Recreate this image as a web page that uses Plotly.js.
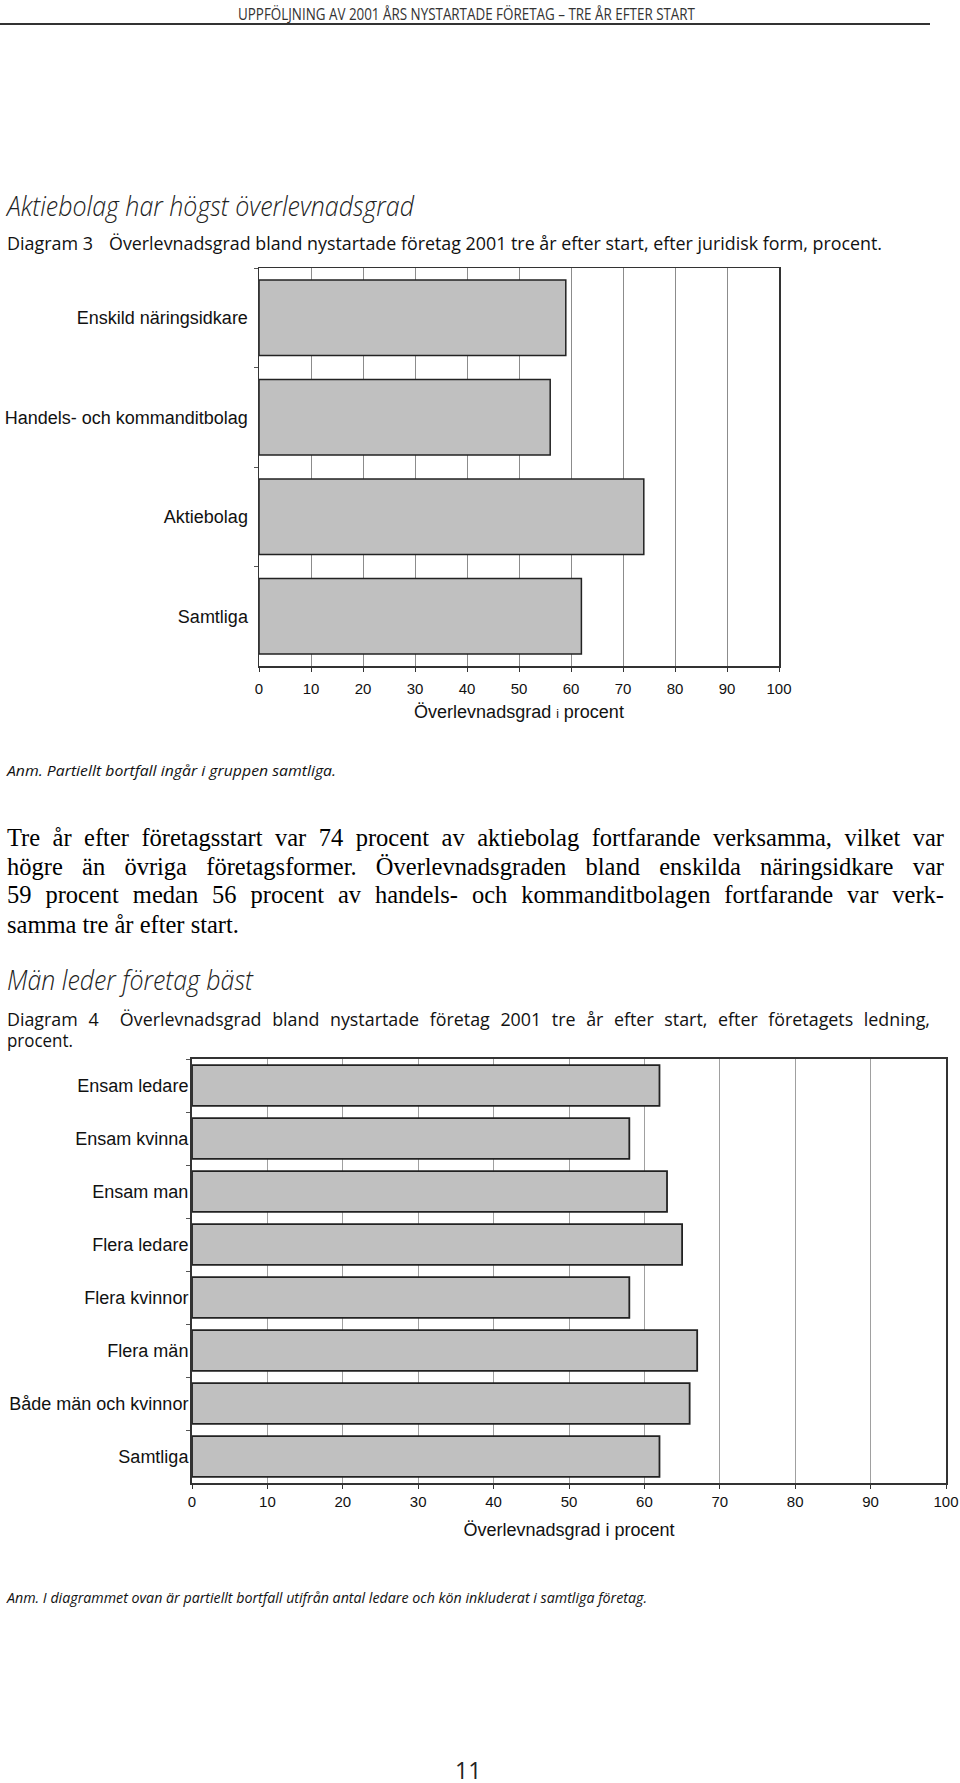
<!DOCTYPE html>
<html>
<head>
<meta charset="utf-8">
<script src="https://cdn.plot.ly/plotly-3.0.1.min.js"></script>
<style>
  html, body { margin:0; padding:0; background:#fff; }
  body { width:960px; height:1783px; position:relative; overflow:hidden; }
  .t { position:absolute; white-space:nowrap; transform-origin:0 50%; color:#111; z-index:5; }
  .sans { font-family:"Open Sans", "DejaVu Sans", sans-serif; }
  .serif { font-family:"Liberation Serif", "Times New Roman", serif; font-size:24.5px; color:#000; }
  .just { text-align:justify; text-align-last:justify; }
  #chart1 { position:absolute; left:0; top:230px; width:960px; height:510px; z-index:1; }
  #chart2 { position:absolute; left:0; top:1020px; width:960px; height:560px; z-index:1; }
  #rule { position:absolute; left:0; top:23px; width:930px; height:2px; background:#333; }
</style>
</head>
<body>

<div class="t sans" data-fit="457" style="left:238px; top:3px; font-size:17px; line-height:22px; color:#333;">UPPFÖLJNING AV 2001 ÅRS NYSTARTADE FÖRETAG – TRE ÅR EFTER START</div>
<div id="rule"></div>

<div class="t sans" data-fit="407" style="left:7px; top:189px; font-size:27px; line-height:34px; font-style:italic; font-weight:300; color:#222;">Aktiebolag har högst överlevnadsgrad</div>
<div class="t sans" data-fit="86" style="left:7px; top:231px; font-size:18px; line-height:24px;">Diagram 3</div>
<div id="diag3" class="t sans" data-fit="773" style="left:109px; top:231px; font-size:18px; line-height:24px;">Överlevnadsgrad bland nystartade företag 2001 tre år efter start, efter juridisk form, procent.</div>

<div id="chart1"></div>

<div class="t sans" data-fit="329" style="left:7px; top:759px; font-size:15px; line-height:22px; font-style:italic;">Anm. Partiellt bortfall ingår i gruppen samtliga.</div>

<div class="t serif just" data-just="937" style="left:7px; top:823px; line-height:30px;">Tre år efter företagsstart var 74 procent av aktiebolag fortfarande verksamma, vilket var</div>
<div class="t serif just" data-just="937" style="left:7px; top:852px; line-height:30px;">högre än övriga företagsformer. Överlevnadsgraden bland enskilda näringsidkare var</div>
<div class="t serif just" data-just="937" style="left:7px; top:880px; line-height:30px;">59 procent medan 56 procent av handels- och kommanditbolagen fortfarande var verk-</div>
<div class="t serif" style="left:7px; top:910px; line-height:30px;">samma tre år efter start.</div>

<div class="t sans" data-fit="246" style="left:7px; top:963px; font-size:27px; line-height:34px; font-style:italic; font-weight:300; color:#222;">Män leder företag bäst</div>
<div class="t sans just" data-just="923" data-s="diag3" style="left:7px; top:1007px; font-size:18px; line-height:24px;">Diagram 4&nbsp; Överlevnadsgrad bland nystartade företag 2001 tre år efter start, efter företagets ledning,</div>
<div class="t sans" data-fit="66" style="left:7px; top:1028px; font-size:18px; line-height:24px;">procent.</div>

<div id="chart2"></div>

<div class="t sans" data-fit="640" style="left:7px; top:1586px; font-size:15px; line-height:22px; font-style:italic;">Anm. I diagrammet ovan är partiellt bortfall utifrån antal ledare och kön inkluderat i samtliga företag.</div>

<div class="t sans" style="left:455px; top:1759px; font-size:23px; line-height:23px; color:#222;">11</div>

<script>
// ---- Data ----
const categories1 = ["Enskild näringsidkare", "Handels- och kommanditbolag", "Aktiebolag", "Samtliga"];
const values1 = [59, 56, 74, 62];

const categories2 = ["Ensam ledare", "Ensam kvinna", "Ensam man", "Flera ledare", "Flera kvinnor", "Flera män", "Både män och kvinnor", "Samtliga"];
const values2 = [62, 58, 63, 65, 58, 67, 66, 62];

const xTickVals = [0, 10, 20, 30, 40, 50, 60, 70, 80, 90, 100];
const xTitle1 = "Överlevnadsgrad <span style='font-size:12px'>i</span> procent";
const xTitle2 = "Överlevnadsgrad i procent";

// ---- Charts ----
const FONT = "Liberation Sans, Arial, sans-serif";

function makeChart(id, cats, vals, title, opts) {
  const trace = {
    type: "bar",
    orientation: "h",
    y: cats,
    x: vals,
    marker: { color: "#c0c0c0", line: { color: "#222", width: opts.barLine } },
    hoverinfo: "none"
  };
  const layout = {
    width: 960,
    height: opts.height,
    margin: opts.margin,
    paper_bgcolor: "rgba(0,0,0,0)",
    plot_bgcolor: "#fff",
    showlegend: false,
    bargap: opts.bargap,
    font: { family: FONT, color: "#111" },
    xaxis: {
      range: [0, 100],
      tickvals: xTickVals,
      ticktext: xTickVals.map(String),
      showgrid: true,
      gridcolor: opts.gridColor,
      gridwidth: 1,
      zeroline: false,
      showline: true,
      linecolor: "#333",
      linewidth: opts.axisW,
      mirror: true,
      ticks: "outside",
      ticklen: 4,
      tickcolor: "#333",
      tickfont: { size: 15, family: FONT, color: "#111" },
      ticklabelstandoff: opts.xStand,
      automargin: false,
      title: { text: title, font: { size: 18, family: FONT, color: "#111" }, standoff: opts.titleStand }
    },
    yaxis: {
      type: "category",
      autorange: "reversed",
      showgrid: false,
      zeroline: false,
      showline: true,
      linecolor: "#333",
      linewidth: opts.axisW,
      mirror: true,
      ticks: "outside",
      tickson: "boundaries",
      ticklen: 4,
      tickcolor: "#555",
      tickfont: { size: 18, family: FONT, color: "#111" },
      ticklabelstandoff: opts.yStand,
      automargin: false
    }
  };
  Plotly.newPlot(id, [trace], layout, { displayModeBar: false, staticPlot: true });
}

makeChart("chart1", categories1, values1, xTitle1, {
  height: 510, margin: { l: 259, r: 181, t: 38, b: 74 }, bargap: 0.24,
  barLine: 1.5, axisW: 1.5, xStand: 4, yStand: 6, titleStand: 10, gridColor: "#8c8c8c"
});
makeChart("chart2", categories2, values2, xTitle2, {
  height: 560, margin: { l: 192, r: 14, t: 39, b: 97 }, bargap: 0.23,
  barLine: 1.8, axisW: 2, xStand: 0, yStand: -2, titleStand: 14, gridColor: "#a0a0a0"
});

// ---- text fitting ----
function fitText() {
  const scales = {};
  document.querySelectorAll("[data-fit]").forEach(el => {
    el.style.transform = "none";
    const w = el.getBoundingClientRect().width;
    const target = parseFloat(el.dataset.fit);
    const s = target / w;
    if (el.id) scales[el.id] = s;
    el.style.transform = "scaleX(" + s + ")";
  });
  document.querySelectorAll("[data-just]").forEach(el => {
    const target = parseFloat(el.dataset.just);
    let s = 1;
    if (el.dataset.s) s = scales[el.dataset.s] || parseFloat(el.dataset.s) || 1;
    el.style.width = (target / s) + "px";
    if (s !== 1) el.style.transform = "scaleX(" + s + ")";
  });
}
fitText();
if (document.fonts && document.fonts.ready) document.fonts.ready.then(fitText);
</script>
</body>
</html>
